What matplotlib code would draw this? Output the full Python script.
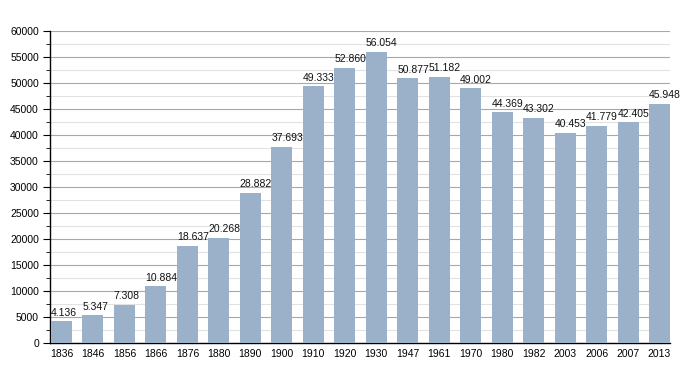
import matplotlib.pyplot as plt
import numpy as np
from matplotlib.ticker import MultipleLocator

years = ['1836', '1846', '1856', '1866', '1876', '1880', '1890', '1900', '1910', '1920',
         '1930', '1947', '1961', '1970', '1980', '1982', '2003', '2006', '2007', '2013']
population = [4136, 5347, 7308, 10884, 18637, 20268, 28882, 37693, 49333, 52860,
              56054, 50877, 51182, 49002, 44369, 43302, 40453, 41779, 42405, 45948]

plt.rcParams['font.family'] = ['Liberation Sans', 'DejaVu Sans']

fig = plt.figure(figsize=(7, 3.73), dpi=100)
ax = fig.add_axes([50 / 700, 30 / 373, 620 / 700, 312 / 373])

bar_w = 0.667
x = np.arange(len(years))
ax.bar(x, population, width=bar_w, color='#9ab1c9', zorder=3)

# value labels start at the left edge of each bar
for xi, v in zip(x, population):
    label = f'{v:,}'.replace(',', '.')
    ax.text(xi - bar_w / 2, v + 700, label, ha='left', va='bottom', fontsize=7.5,
            color='#111111', zorder=4)

ax.set_xlim(-bar_w / 2 - 0.03, len(years) - 1 + bar_w / 2)
ax.set_ylim(0, 60000)
ax.set_xticks(x)
ax.set_xticklabels(years)
ax.yaxis.set_major_locator(MultipleLocator(5000))
ax.yaxis.set_minor_locator(MultipleLocator(2500))
ax.grid(which='major', axis='y', color='#a8a8a8', linewidth=0.8, zorder=0)
ax.grid(which='minor', axis='y', color='#e2e2e2', linewidth=0.8, zorder=0)
ax.grid(axis='x', visible=False)

for s in ['top', 'right']:
    ax.spines[s].set_visible(False)
ax.spines['left'].set_linewidth(1.0)
ax.spines['bottom'].set_linewidth(1.0)

ax.tick_params(axis='x', length=0, labelsize=7.5, pad=4)
ax.tick_params(axis='y', which='major', length=5, labelsize=7.5, pad=3)
ax.tick_params(axis='y', which='minor', length=3)

fig.savefig('out.png', dpi=100)
